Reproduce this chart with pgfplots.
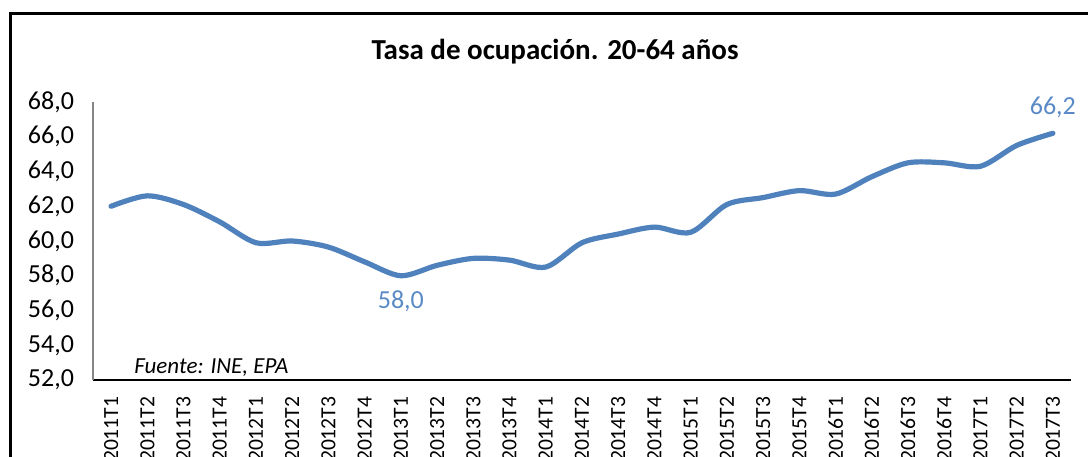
\documentclass[border=0pt]{standalone}
\usepackage{pgfplots}
\pgfplotsset{compat=1.18}
\usepackage{fontspec}
\setmainfont{Carlito}
\definecolor{serie}{HTML}{4F81BD}
\definecolor{etiq}{HTML}{5A8AC6}
\definecolor{ejey}{HTML}{868686}

\begin{document}
\begin{tikzpicture}
\useasboundingbox (0,0) rectangle (544pt,228pt);
\clip (0,0) rectangle (544pt,228pt);
% marco
\draw[line width=1.5pt] (5pt,-10pt) -- (5pt,221pt) -- (560pt,221pt);
\node[font=\bfseries\fontsize{14.5}{17}\selectfont] at (277.5pt,202pt) {Tasa de ocupación. 20-64 años};
\begin{axis}[
    at={(46.5pt,38pt)}, anchor=south west,
    scale only axis, width=489pt, height=139pt,
    xmin=-0.5, xmax=26.5, ymin=52, ymax=68,
    axis x line=bottom, axis y line=left,
    x axis line style={-, black, line width=0.6pt},
    y axis line style={-, ejey, line width=0.6pt},
    major tick length=0pt,
    xtick={0,...,26}, ytick={52,54,...,68},
    xticklabels={2011T1,2011T2,2011T3,2011T4,2012T1,2012T2,2012T3,2012T4,
      2013T1,2013T2,2013T3,2013T4,2014T1,2014T2,2014T3,2014T4,
      2015T1,2015T2,2015T3,2015T4,2016T1,2016T2,2016T3,2016T4,
      2017T1,2017T2,2017T3},
    xticklabel style={rotate=90, anchor=east, font=\fontsize{10.8}{13}\selectfont, xshift=-4.8pt},
    yticklabel style={font=\fontsize{13}{15}\selectfont, xshift=-6pt},
    /pgf/number format/.cd, fixed, fixed zerofill, precision=1, use comma, assume math mode=true,
  ]
  \addplot[serie, line width=2.6pt, smooth, line cap=round] coordinates {
    (0,62.0) (1,62.6) (2,62.1) (3,61.1) (4,59.9) (5,60.0) (6,59.65) (7,58.8)
    (8,58.0) (9,58.6) (10,59.0) (11,58.9) (12,58.5) (13,59.9) (14,60.4) (15,60.8)
    (16,60.5) (17,62.1) (18,62.5) (19,62.9) (20,62.7) (21,63.7) (22,64.5) (23,64.5)
    (24,64.3) (25,65.5) (26,66.2)
  };
  \addplot[draw=none, nodes near coords, point meta=explicit symbolic,
    nodes near coords style={font=\fontsize{13}{15}\selectfont, etiq, anchor=north, yshift=-4pt}]
    coordinates {(8,58.0)[58,0]};
  \addplot[draw=none, nodes near coords, point meta=explicit symbolic,
    nodes near coords style={font=\fontsize{13}{15}\selectfont, etiq, anchor=south, yshift=4pt}]
    coordinates {(26,66.2)[66,2]};
\end{axis}
\node[anchor=west, inner sep=0pt, font=\itshape\fontsize{11.5}{13}\selectfont] at (67pt,44pt) {Fuente: INE, EPA};
\end{tikzpicture}
\end{document}
